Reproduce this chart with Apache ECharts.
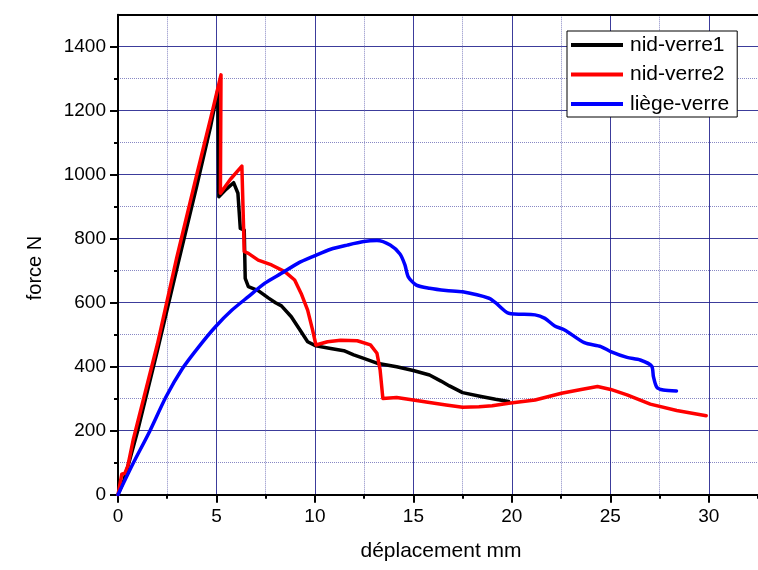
<!DOCTYPE html>
<html>
<head>
<meta charset="utf-8">
<script src="https://cdn.jsdelivr.net/npm/echarts@6/dist/echarts.min.js"></script>
<style>
  html, body { margin: 0; padding: 0; background: #fff; }
  #chart { width: 758px; height: 570px; }
</style>
</head>
<body>
<div id="chart"></div>
<script>
// Force–displacement curves, [déplacement mm, force N]
const nidVerre1 = [
  [0, 0], [0.3, 45], [0.6, 110], [1.0, 200], [2.0, 450], [3.0, 710], [4.0, 965],
  [4.7, 1150], [5.07, 1265], [5.12, 931], [5.5, 955], [5.87, 975], [6.09, 942],
  [6.21, 832], [6.41, 827], [6.46, 676], [6.62, 650], [7.12, 638], [7.63, 615],
  [8.0, 600], [8.3, 590], [8.8, 556], [9.3, 509], [9.63, 478], [10.05, 465],
  [10.8, 457], [11.47, 450], [11.97, 437], [12.48, 426], [13.15, 411], [14.15, 400],
  [14.99, 388], [15.82, 374], [16.4, 355], [16.83, 340], [17.5, 319], [18.5, 306],
  [19.17, 298], [19.84, 291]
];
const nidVerre2 = [
  [0, 0], [0.19, 64], [0.35, 67], [0.5, 90], [0.77, 171], [2.0, 470], [2.98, 740],
  [4.0, 1000], [4.8, 1200], [5.23, 1312], [5.2, 942], [5.7, 985], [6.29, 1027],
  [6.41, 760], [6.62, 754], [7.12, 733], [7.8, 718], [8.47, 697], [8.97, 671],
  [9.3, 629], [9.63, 577], [9.88, 515], [10.05, 468], [10.64, 478], [11.31, 483],
  [12.15, 481], [12.82, 468], [13.15, 442], [13.31, 390], [13.45, 301], [14.15, 304],
  [14.99, 296], [15.82, 288], [16.66, 280], [17.5, 273], [18.33, 275], [19.0, 278],
  [19.84, 286], [21.18, 296], [22.52, 317], [23.52, 329], [24.35, 338], [25.02, 329],
  [25.85, 312], [27.03, 283], [28.37, 263], [29.87, 247]
];
const liegeVerre = [
  [0, 0], [0.77, 98], [1.6, 197], [2.44, 306], [3.28, 395], [4.11, 463], [4.95, 525],
  [5.79, 577], [6.62, 619], [7.46, 661], [8.3, 692], [9.13, 723], [9.97, 746],
  [10.8, 767], [11.64, 780], [12.48, 791], [13.15, 794], [13.82, 780], [14.32, 752],
  [14.57, 718], [14.74, 681], [15.15, 655], [15.82, 645], [16.66, 638], [17.5, 634],
  [18.84, 614], [19.17, 600], [19.84, 567], [21.18, 562], [21.68, 551], [22.18, 527],
  [22.68, 515], [23.68, 475], [24.52, 463], [25.02, 447], [25.85, 429], [26.52, 421],
  [27.1, 402], [27.19, 369], [27.36, 336], [27.69, 327], [28.36, 324]
];

const seriesNames = ['nid-verre1', 'nid-verre2', 'liège-verre'];
const seriesColors = ['#000000', '#ff0000', '#0000ff'];
const seriesSmooth = [false, false, 0.25];

// Tick positions
const xMajorTicks = [0, 5, 10, 15, 20, 25, 30];
const xMinorTicks = [2.5, 7.5, 12.5, 17.5, 22.5, 27.5, 32.5];
const yMajorTicks = [0, 200, 400, 600, 800, 1000, 1200, 1400];
const yMinorTicks = [100, 300, 500, 700, 900, 1100, 1300];

const FONT = 'Liberation Sans, Arial, sans-serif';
const X_MAX = 32.5, Y_MAX = 1500;

const chart = echarts.init(document.getElementById('chart'), null, { renderer: 'canvas' });

const majorGrid = { show: true, lineStyle: { color: '#1a1a8a', width: 1, opacity: 0.85 } };
const minorGrid = { show: true, lineStyle: { color: '#8888c4', width: 1, type: [1, 1] } };
const plainNumber = v => String(v);

chart.setOption({
  backgroundColor: '#ffffff',
  animation: false,
  grid: { left: 118, right: -8, top: 14.7, bottom: 75.3, containLabel: false },
  legend: {
    orient: 'vertical',
    left: 567, top: 31,
    padding: [3, 8, 2, 4],
    icon: 'rect',
    itemWidth: 52, itemHeight: 4, itemGap: 7.5,
    backgroundColor: '#ffffff',
    borderColor: '#000000', borderWidth: 1, borderRadius: 0,
    textStyle: { fontFamily: FONT, fontSize: 21, color: '#000', lineHeight: 22, padding: [0, 0, 0, 2] },
    data: seriesNames
  },
  xAxis: [
    { // major ticks, labels, solid grid lines
      type: 'value', min: 0, max: X_MAX, interval: 5, position: 'bottom',
      axisLine: { show: true, onZero: false, lineStyle: { color: '#000', width: 2 } },
      axisTick: { show: true, inside: false, length: 8, customValues: xMajorTicks, lineStyle: { color: '#000', width: 2 } },
      axisLabel: { show: true, customValues: xMajorTicks, formatter: plainNumber, margin: 13, fontFamily: FONT, fontSize: 19, color: '#000' },
      splitLine: majorGrid
    },
    { // minor ticks and dotted grid lines
      type: 'value', min: 0, max: X_MAX, interval: 2.5, position: 'bottom',
      axisLine: { show: false, onZero: false },
      axisTick: { show: true, inside: false, length: 4, customValues: xMinorTicks, lineStyle: { color: '#000', width: 2 } },
      axisLabel: { show: false },
      splitLine: minorGrid
    },
    { // top frame
      type: 'value', min: 0, max: X_MAX, position: 'top',
      axisLine: { show: true, onZero: false, lineStyle: { color: '#000', width: 2 } },
      axisTick: { show: false }, axisLabel: { show: false }, splitLine: { show: false }
    }
  ],
  yAxis: [
    {
      type: 'value', min: 0, max: Y_MAX, interval: 100, position: 'left',
      axisLine: { show: true, onZero: false, lineStyle: { color: '#000', width: 2 } },
      axisTick: { show: true, inside: false, length: 8, customValues: yMajorTicks, lineStyle: { color: '#000', width: 2 } },
      axisLabel: { show: true, customValues: yMajorTicks, formatter: plainNumber, margin: 12, fontFamily: FONT, fontSize: 19, color: '#000' },
      splitLine: { show: false }
    },
    {
      type: 'value', min: 0, max: Y_MAX, interval: 100, position: 'left',
      axisLine: { show: false, onZero: false },
      axisTick: { show: true, inside: false, length: 4, customValues: yMinorTicks, lineStyle: { color: '#000', width: 2 } },
      axisLabel: { show: false },
      splitLine: minorGrid
    },
    { // solid grid lines at the labelled values
      type: 'value', min: 0, max: Y_MAX, interval: 200, position: 'left',
      axisLine: { show: false, onZero: false },
      axisTick: { show: false }, axisLabel: { show: false },
      splitLine: majorGrid
    }
  ],
  graphic: [
    {
      type: 'text', x: 35, y: 268, rotation: Math.PI / 2,
      style: { text: 'force N', font: '20px ' + FONT, fill: '#000', textAlign: 'center', textVerticalAlign: 'middle' }
    },
    {
      type: 'text', x: 441, y: 551,
      style: { text: 'déplacement mm', font: '21px ' + FONT, fill: '#000', textAlign: 'center', textVerticalAlign: 'middle' }
    }
  ],
  series: [nidVerre1, nidVerre2, liegeVerre].map((d, i) => ({
    name: seriesNames[i],
    type: 'line',
    xAxisIndex: 0, yAxisIndex: 0,
    data: d,
    showSymbol: false, symbol: 'none',
    smooth: seriesSmooth[i],
    lineStyle: { color: seriesColors[i], width: 3.5, join: 'round', cap: 'round' },
    itemStyle: { color: seriesColors[i] },
    z: 3 + i
  }))
});
</script>
</body>
</html>
